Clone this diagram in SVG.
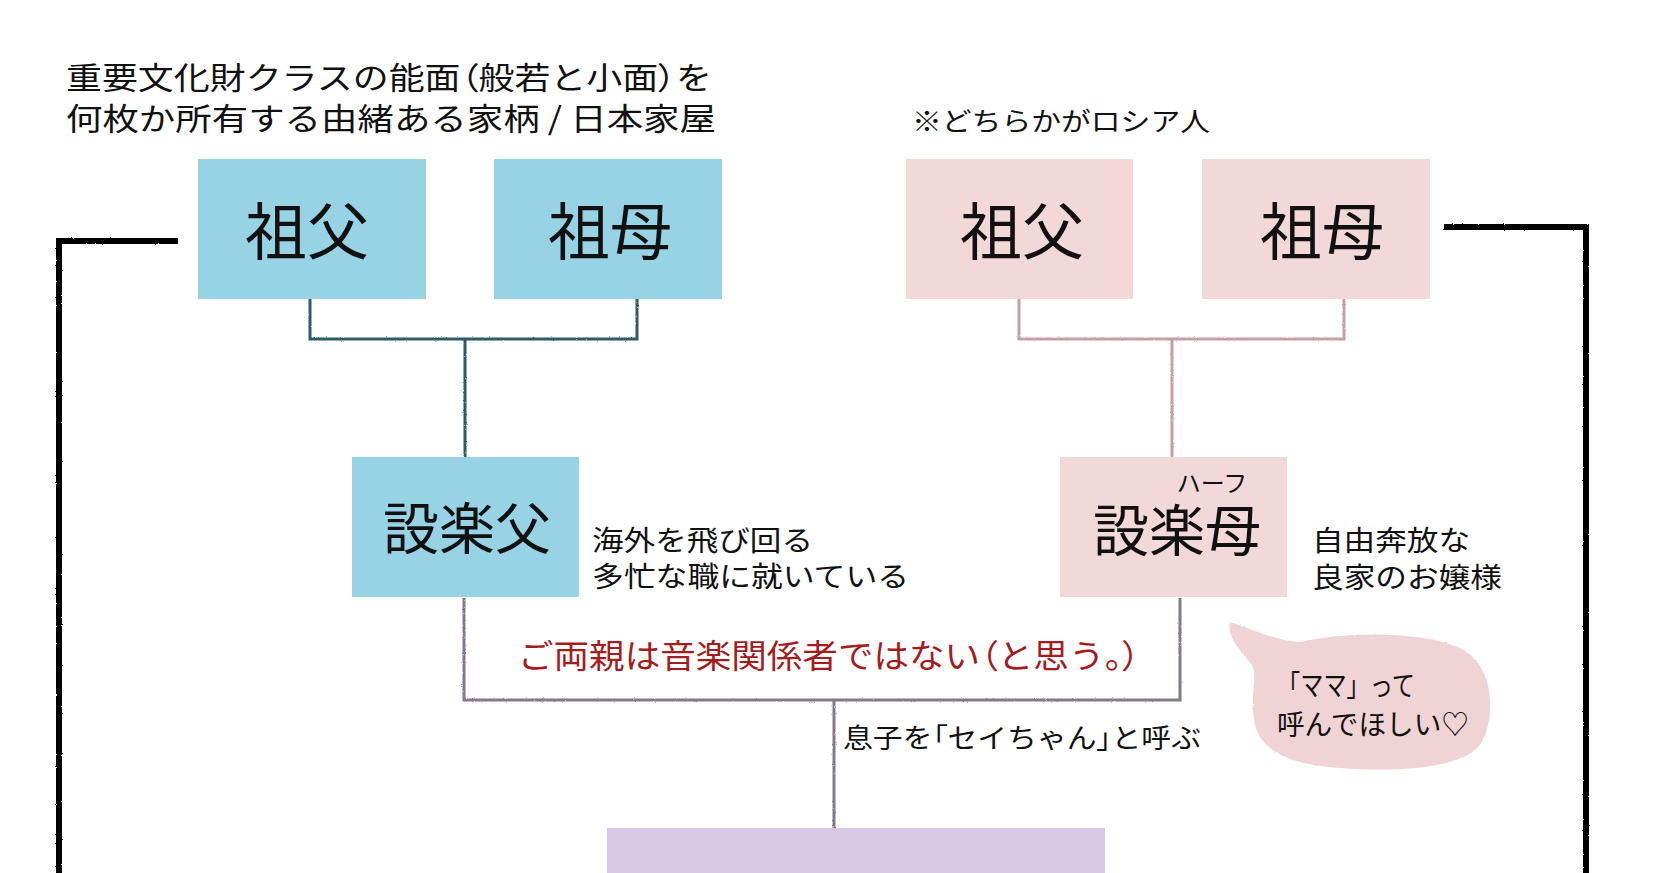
<svg xmlns="http://www.w3.org/2000/svg" width="1667" height="873" viewBox="0 0 1667 873">
<style>
  text { font-family: "Noto Sans CJK JP", "Noto Sans", sans-serif; fill: #111; }
  .big { font-size: 62px; text-anchor: middle; }
  .mid { font-size: 56px; text-anchor: middle; }
  .note { font-size: 28px; }
  .head { font-size: 31px; }
  .red { font-size: 33px; fill: #a31d1f; }
  .p { font-feature-settings: "palt" 1; }
  .blue { fill: #97d3e4; }
  .pink { fill: #f3d8da; }
  .purple { fill: #d9c7e7; }
  .conn { fill: none; stroke-width: 3; stroke-linejoin: miter; }
  .c-blue { stroke: #2e5b62; }
  .c-pink { stroke: #c79ea5; }
  .c-purple { stroke: #867889; }
  .frame { fill: none; stroke: #000; stroke-width: 6; stroke-linecap: square; }
</style>
<defs>
  <filter id="rough" x="-5%" y="-5%" width="110%" height="110%">
    <feTurbulence type="fractalNoise" baseFrequency="0.9" numOctaves="2" seed="3" result="n"/>
    <feDisplacementMap in="SourceGraphic" in2="n" scale="2" xChannelSelector="R" yChannelSelector="G"/>
  </filter>
</defs>
<rect width="1667" height="873" fill="#fff"/>

<g id="header-left">
  <text class="head" x="66" y="89" textLength="646" lengthAdjust="spacingAndGlyphs">重要文化財クラスの能面<tspan class="p">（</tspan>般若と小面<tspan class="p">）</tspan>を</text>
  <text class="head" x="66" y="130" textLength="650" lengthAdjust="spacingAndGlyphs">何枚か所有する由緒ある家柄 / 日本家屋</text>
</g>
<g id="header-right">
  <text x="912" y="131" font-size="26" textLength="298" lengthAdjust="spacingAndGlyphs">※どちらかがロシア人</text>
</g>

<g id="connectors">
  <g filter="url(#rough)">
    <path class="conn c-blue" d="M310 299 V339 H637 V299 M465 339 V457"/>
    <path class="conn c-pink" d="M1019 299 V339 H1344 V299 M1172 339 V457"/>
    <path class="conn c-purple" d="M464 598 V700 H1180 V598 M834 700 V829"/>
    <path class="frame" d="M175 241 H59 V880"/>
    <path class="frame" d="M1447 227 H1586 V880"/>
  </g>
</g>

<g id="grandfather-left">
  <rect class="blue" x="198" y="159" width="228" height="140"/>
  <text class="big" x="307" y="255">祖父</text>
</g>
<g id="grandmother-left">
  <rect class="blue" x="494" y="159" width="228" height="140"/>
  <text class="big" x="610" y="255">祖母</text>
</g>
<g id="grandfather-right">
  <rect class="pink" x="906" y="159" width="227" height="140"/>
  <text class="big" x="1022" y="255">祖父</text>
</g>
<g id="grandmother-right">
  <rect class="pink" x="1202" y="159" width="228" height="140"/>
  <text class="big" x="1322" y="255">祖母</text>
</g>

<g id="father">
  <rect class="blue" x="352" y="457" width="227" height="140"/>
  <text class="mid" x="467" y="549">設楽父</text>
  <text class="note" x="592" y="551" textLength="221" lengthAdjust="spacingAndGlyphs">海外を飛び回る</text>
  <text class="note" x="592" y="587" textLength="317" lengthAdjust="spacingAndGlyphs">多忙な職に就いている</text>
</g>
<g id="mother">
  <rect class="pink" x="1060" y="457" width="227" height="140"/>
  <text x="1212" y="492" font-size="24" text-anchor="middle">ハーフ</text>
  <text class="mid" x="1177" y="551">設楽母</text>
  <text class="note" x="1312" y="551" textLength="158" lengthAdjust="spacingAndGlyphs">自由奔放な</text>
  <text class="note" x="1312" y="588" textLength="190" lengthAdjust="spacingAndGlyphs">良家のお嬢様</text>
</g>

<g id="parents-note">
  <text class="red" x="518" y="668" textLength="622" lengthAdjust="spacingAndGlyphs">ご両親は音楽関係者ではない<tspan class="p">（</tspan>と思う<tspan class="p">。）</tspan></text>
  <text x="843" y="748" font-size="27" textLength="358" lengthAdjust="spacingAndGlyphs">息子を<tspan class="p">「</tspan>セイちゃん<tspan class="p">」</tspan>と呼ぶ</text>
</g>

<g id="bubble">
  <path filter="url(#rough)" fill="#f0d3d5" d="M1230 622 C1250 628 1275 641 1300 642 C1340 632 1420 630 1460 648 C1496 665 1496 720 1480 745 C1460 770 1390 772 1340 768 C1290 765 1258 750 1254 720 C1250 692 1258 676 1252 665 C1240 650 1226 636 1230 622 Z"/>
  <text x="1277" y="696" font-size="28" textLength="138" lengthAdjust="spacingAndGlyphs">「ママ」って</text>
  <text x="1277" y="735" font-size="28" textLength="192" lengthAdjust="spacingAndGlyphs">呼んでほしい♡</text>
</g>

<g id="child">
  <rect class="purple" x="607" y="828" width="498" height="60"/>
</g>
</svg>
